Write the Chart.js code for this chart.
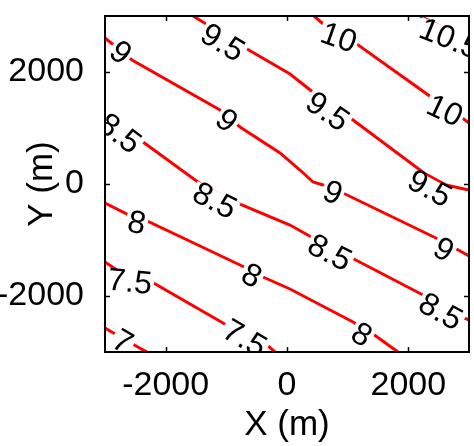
<!DOCTYPE html>
<html><head><meta charset="utf-8">
<script src="https://cdn.jsdelivr.net/npm/chart.js@4/dist/chart.umd.min.js"></script>
<style>html,body{margin:0;padding:0;background:#fff}</style>
</head><body>
<canvas id="c" width="474" height="446"></canvas>
<script>
// Contour levels
const levels = ['7', '7.5', '8', '8.5', '9', '9.5', '10', '10.5'];
// Contour line vertices (metres)
const line7X   = [-3000, -2637, -2308];
const line7Y   = [-2571, -2804, -3000];
const line75X  = [-3000, -2588, -2258, -940, -659, -330, -198];
const line75Y  = [-1393, -1696, -1732, -2554, -2732, -2875, -3000];
const line8X   = [-3000, -2473, -2308, -1434, -775, -396, 49, 1088, 1418, 1830];
const line8Y   = [-339, -625, -661, -1107, -1446, -1661, -1875, -2464, -2679, -3000];
const line85X  = [-3000, -2374, -1401, -824, 49, 429, 1039, 2242, 2885, 3000];
const line85Y  = [1268, 750, -18, -339, -732, -964, -1304, -1982, -2375, -2429];
const line9X   = [-3000, -2555, -1104, -775, -115, 214, 429, 594, 923, 2522, 3000];
const line9Y   = [2607, 2214, 1321, 1018, 554, 250, 36, -18, -161, -1000, -1286];
const line95X  = [-1549, -659, 50, 445, 1022, 2258, 2621, 3000];
const line95Y  = [3000, 2411, 1964, 1625, 1196, 196, -18, -107];
const line10X  = [445, 824, 1105, 2374, 2588, 2868, 3000];
const line10Y  = [3000, 2643, 2536, 1554, 1339, 1196, 1089];
const line105X = [2192, 2588, 3000];
const line105Y = [3000, 2786, 2607];
const linesX = [line7X, line75X, line8X, line85X, line9X, line95X, line10X, line105X];
const linesY = [line7Y, line75Y, line8Y, line85Y, line9Y, line95Y, line10Y, line105Y];

// Contour labels
const labelText = ['7', '7.5', '7.5', '8', '8', '8', '8.5', '8.5', '8.5', '8.5', '9', '9', '9', '9', '9.5', '9.5', '9.5', '10', '10', '10.5'];
const labelX    = [-2703, -2588, -692, -2473, -577, 1236, -2753, -1187, 709, 2539, -2736, -989, 758, 2588, -1055, 676, 2357, 857, 2605, 2687];
const labelY    = [-2804, -1732, -2750, -679, -1625, -2679, 911, -286, -1214, -2268, 2357, 1143, -143, -1161, 2536, 1304, -71, 2625, 1321, 2607];

// Axis ticks
const xTicks = [-2000, 0, 2000];
const yTicks = [-2000, 0, 2000];

Chart.defaults.font.family = '"Liberation Sans", Arial, Helvetica, sans-serif';
Chart.defaults.color = '#000';

const datasets = levels.map((lv, i) => ({
  label: lv,
  data: linesX[i].map((x, k) => ({x: x, y: linesY[i][k]})),
  showLine: true,
  pointRadius: 0,
  borderColor: '#ff0000',
  borderWidth: 3,
  fill: false,
  tension: 0
}));

const contourLabels = {
  id: 'contourLabels',
  afterDatasetsDraw(chart) {
    const {ctx, chartArea: a, scales: {x, y}} = chart;
    ctx.save();
    ctx.beginPath();
    ctx.rect(a.left, a.top, a.right - a.left, a.bottom - a.top);
    ctx.clip();
    ctx.font = '32px "Liberation Sans", Arial, sans-serif';
    ctx.textAlign = 'center';
    ctx.textBaseline = 'middle';
    labelText.forEach((t, i) => {
      const px = x.getPixelForValue(labelX[i]);
      const py = y.getPixelForValue(labelY[i]);
      const li = levels.indexOf(t);
      const pts = linesX[li].map((v, k) => [x.getPixelForValue(v), y.getPixelForValue(linesY[li][k])]);
      let best = Infinity, ang = 0;
      for (let k = 0; k < pts.length - 1; k++) {
        const [x1, y1] = pts[k], [x2, y2] = pts[k + 1];
        const dx = x2 - x1, dy = y2 - y1;
        let u = ((px - x1) * dx + (py - y1) * dy) / (dx * dx + dy * dy);
        u = Math.max(0, Math.min(1, u));
        const d = Math.hypot(x1 + u * dx - px, y1 + u * dy - py);
        if (d < best) { best = d; ang = Math.atan2(dy, dx); }
      }
      ctx.save();
      ctx.translate(px, py);
      ctx.rotate(ang);
      const w = ctx.measureText(t).width;
      ctx.fillStyle = '#fff';
      ctx.fillRect(-w / 2 - 2, -9, w + 4, 18);
      ctx.fillStyle = '#000';
      ctx.fillText(t, 0, 2);
      ctx.restore();
    });
    ctx.restore();
  },
  afterDraw(chart) {
    const {ctx, chartArea: a, scales: {x, y}} = chart;
    ctx.save();
    ctx.strokeStyle = '#000';
    ctx.lineWidth = 1.5;
    const tl = 5;
    ctx.beginPath();
    xTicks.forEach(v => {
      const px = Math.round(x.getPixelForValue(v)) + 0.5;
      ctx.moveTo(px, a.bottom); ctx.lineTo(px, a.bottom - tl);
      ctx.moveTo(px, a.top); ctx.lineTo(px, a.top + tl);
    });
    yTicks.forEach(v => {
      const py = Math.round(y.getPixelForValue(v)) + 0.5;
      ctx.moveTo(a.left, py); ctx.lineTo(a.left + tl, py);
      ctx.moveTo(a.right, py); ctx.lineTo(a.right - tl, py);
    });
    ctx.stroke();
    ctx.lineWidth = 2;
    ctx.strokeRect(a.left, a.top, a.right - a.left, a.bottom - a.top);
    ctx.restore();
  }
};

new Chart(document.getElementById('c'), {
  type: 'scatter',
  data: {datasets},
  options: {
    responsive: false,
    animation: false,
    devicePixelRatio: 1,
    layout: {padding: {top: 16, right: 5, left: 0, bottom: 0}},
    plugins: {legend: {display: false}, tooltip: {enabled: false}},
    scales: {
      x: {
        type: 'linear', min: -3000, max: 3000,
        grid: {display: false}, border: {display: false},
        afterBuildTicks: s => { s.ticks = xTicks.map(v => ({value: v})); },
        afterFit: s => { s.height = 94; s.paddingLeft = 0; s.paddingRight = 0; },
        ticks: {font: {size: 34}, color: '#000', padding: 5, maxRotation: 0, callback: v => String(v)},
        title: {display: true, text: 'X (m)', font: {size: 35}, color: '#000', padding: {top: 0, bottom: 0}}
      },
      y: {
        type: 'linear', min: -3000, max: 3000,
        grid: {display: false}, border: {display: false},
        afterBuildTicks: s => { s.ticks = yTicks.map(v => ({value: v})); },
        afterFit: s => { s.width = 105; s.paddingTop = 0; s.paddingBottom = 0; },
        ticks: {font: {size: 34}, color: '#000', padding: 13, callback: v => String(v)},
        title: {display: true, text: 'Y (m)', font: {size: 35}, color: '#000', padding: {top: 21, bottom: 0}}
      }
    }
  },
  plugins: [contourLabels]
});
</script>
</body></html>
